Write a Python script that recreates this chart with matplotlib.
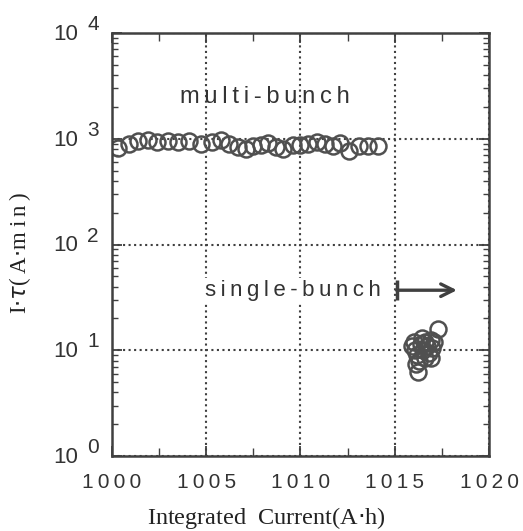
import numpy as np
import matplotlib
matplotlib.use('Agg')
import matplotlib.pyplot as plt
import matplotlib.transforms as mtransforms
from matplotlib.ticker import FixedLocator, LogLocator, NullFormatter

# multi-bunch operation: lifetime product vs integrated current
multi_x = [1000.3, 1000.9, 1001.4, 1001.9, 1002.4, 1003.0, 1003.5, 1004.1,
           1004.7, 1005.3, 1005.8, 1006.2, 1006.7, 1007.1, 1007.5, 1007.9,
           1008.3, 1008.7, 1009.1, 1009.6, 1010.0, 1010.4, 1010.9, 1011.3,
           1011.7, 1012.1, 1012.6, 1013.1, 1013.6, 1014.1]
multi_y = [820, 900, 950, 980, 930, 960, 940, 950,
           900, 930, 980, 890, 830, 800, 850, 870,
           910, 830, 800, 870, 880, 900, 940, 890,
           850, 920, 760, 860, 850, 860]

# single-bunch operation
single_x = [1015.9, 1016.0, 1016.1, 1016.15, 1016.2, 1016.25, 1016.3, 1016.4,
            1016.45, 1016.5, 1016.6, 1016.6, 1016.7, 1016.8, 1016.9, 1016.9,
            1017.0, 1017.1, 1017.3]
single_y = [11, 12, 10, 7.5, 9, 6.3, 8, 11.5,
            13, 10, 12, 8.5, 11, 9.5, 12.5, 8.5,
            10.5, 12, 16]

x_ticks = [1000, 1005, 1010, 1015, 1020]
y_ticks = [1, 10, 100, 1000, 10000]

THIN = '\u2009'


def spaced(s):
    return THIN.join(s)


x_ticklabels = [spaced(str(v)) for v in x_ticks]

# annotation positions (data units)
multi_label_pos = (1008.1, 2500)
single_label_pos = (1009.6, 37)
arrow_from = (1015.1, 37)
arrow_to = (1018.3, 37)

fig = plt.figure(figsize=(5.23, 5.31), dpi=100)
ax = fig.add_axes([0.214, 0.141, 0.721, 0.797])

ax.plot(multi_x, multi_y, 'o', ms=11.5, mfc='none', mec='#505050', mew=1.8)
ax.plot(single_x, single_y, 'o', ms=11.5, mfc='none', mec='#505050', mew=1.8)

ax.set_yscale('log')
ax.set_xlim(1000, 1020)
ax.set_ylim(1, 10000)

ax.xaxis.set_major_locator(FixedLocator(x_ticks))
ax.xaxis.set_minor_locator(FixedLocator([1002.5, 1007.5, 1012.5, 1017.5]))
ax.set_xticklabels(x_ticklabels, fontsize=15, family='Liberation Sans', color='#333333')
ax.yaxis.set_major_locator(FixedLocator(y_ticks))
ax.yaxis.set_minor_locator(LogLocator(base=10, subs=np.arange(2, 10)))
ax.yaxis.set_minor_formatter(NullFormatter())
ax.set_yticklabels([])

# decade labels: "10" with a near full-size exponent
yblend = mtransforms.blended_transform_factory(ax.transAxes, ax.transData)
for v in y_ticks:
    base = mtransforms.offset_copy(yblend, fig=fig, x=-24, y=-1, units='points')
    ax.text(0, v, '10', transform=base, fontsize=16, family='Liberation Sans',
            ha='right', va='center', color='#333333')
    sup = mtransforms.offset_copy(yblend, fig=fig, x=-9.5, y=6, units='points')
    ax.text(0, v, str(int(np.log10(v))), transform=sup, fontsize=15,
            family='Liberation Sans', ha='right', va='center', color='#333333')

ax.tick_params(which='both', direction='in', top=True, right=True, color='#404040')
ax.tick_params(which='major', length=7, width=1.3)
ax.tick_params(axis='x', which='major', pad=12)
ax.tick_params(which='minor', length=4, width=1.0)
ax.tick_params(axis='x', which='minor', length=6)

for s in ax.spines.values():
    s.set_linewidth(1.8)
    s.set_color('#404040')

ax.grid(True, which='major', linestyle=':', linewidth=1.5, color='#404040')

ax.text(*multi_label_pos, spaced('multi-bunch'), fontsize=17, family='Liberation Sans',
        ha='center', va='center', color='#333333')
ax.text(*single_label_pos, spaced('single-bunch'), fontsize=16, family='Liberation Sans',
        ha='center', va='center', color='#333333',
        bbox=dict(facecolor='white', edgecolor='none', pad=1))
# arrow pointing to the single-bunch run, with a bar at its tail
ax.annotate('', xy=arrow_to, xytext=arrow_from,
            arrowprops=dict(arrowstyle='->, head_length=0.9, head_width=0.45',
                            lw=2.4, color='#404040', shrinkA=0, shrinkB=0))
ax.plot(*arrow_from, marker='|', ms=15, mew=2.5, color='#404040')

ax.set_xlabel('Integrated  Current(A$\\cdot$h)', fontsize=17.5,
              family='Liberation Serif', color='#222222')
ax.xaxis.set_label_coords(0.41, -0.115)
ax.set_ylabel(spaced('I') + r'$\cdot\tau$' + spaced('(A') + r'$\cdot$' + spaced('min)'),
              fontsize=16.5, family='Liberation Serif', color='#222222')
ax.yaxis.set_label_coords(-0.21, 0.48)

fig.savefig('out.png', dpi=100)
